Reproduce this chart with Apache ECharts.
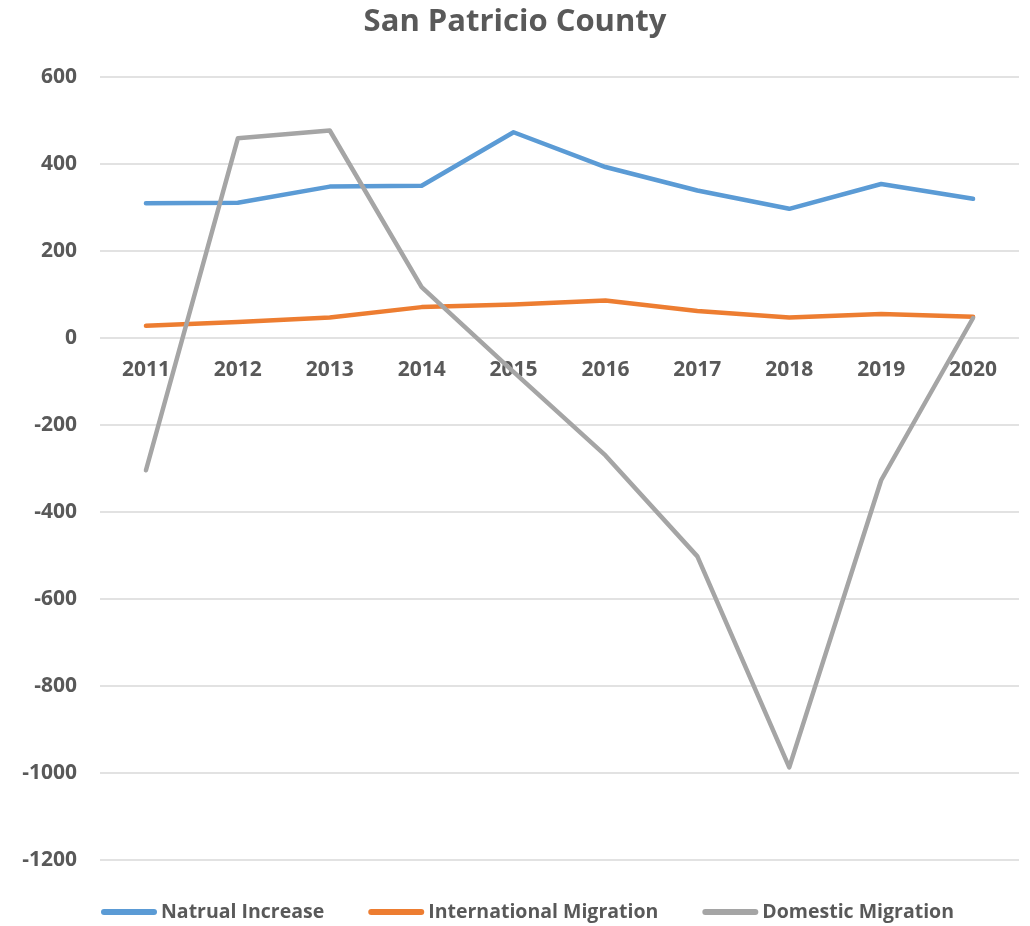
<!DOCTYPE html>
<html>
<head>
<meta charset="utf-8">
<script src="https://cdn.jsdelivr.net/npm/echarts@6/dist/echarts.min.js"></script>
<style>
  html, body { margin: 0; padding: 0; background: #fff; }
  #chart { width: 1030px; height: 926px; }
</style>
</head>
<body>
<div id="chart"></div>
<script>
// Components of population change, San Patricio County
const years = ['2011', '2012', '2013', '2014', '2015', '2016', '2017', '2018', '2019', '2020'];
const naturalIncrease = [310, 311, 348, 350, 473, 393, 339, 297, 354, 320];
const internationalMigration = [28, 37, 47, 71, 77, 86, 62, 47, 55, 49];
const domesticMigration = [-304, 459, 477, 117, -78, -270, -502, -987, -327, 46];
const seriesNames = ['Natrual Increase', 'International Migration', 'Domestic Migration'];

const textColor = '#595959';
const fontFamily = '"Open Sans", sans-serif';

// y range of the value axis and the pixel box of the plot
const yMin = -1200, yMax = 600;
const gridTop = 77, gridBottom = 66, chartHeight = 926;
const plotHeight = chartHeight - gridTop - gridBottom;
// category labels sit just under the zero line
const zeroOffset = -(plotHeight * (0 - yMin) / (yMax - yMin));

const chart = echarts.init(document.getElementById('chart'));

function lineSeries(name, data, color) {
  return {
    name: name,
    type: 'line',
    data: data,
    symbol: 'none',
    color: color,
    lineStyle: { width: 4.5, color: color, cap: 'round', join: 'round' },
    emphasis: { disabled: true }
  };
}

// rounded bar used as the legend key
const keyIcon = 'path://M3,0 L53,0 A3,3 0 0 1 53,6 L3,6 A3,3 0 0 1 3,0 Z';

chart.setOption({
  animation: false,
  title: {
    text: 'San Patricio County',
    left: 'center',
    top: 2,
    textStyle: { color: textColor, fontSize: 31, fontWeight: 'bold', fontFamily: fontFamily }
  },
  legend: {
    top: 897,
    left: 96,
    icon: keyIcon,
    itemWidth: 56,
    itemHeight: 6,
    itemGap: 44,
    textStyle: { color: textColor, fontSize: 19.5, fontWeight: 'bold', fontFamily: fontFamily, padding: [0, 0, 0, -1] },
    data: seriesNames
  },
  grid: { left: 100, right: 11, top: gridTop, bottom: gridBottom, containLabel: false },
  xAxis: {
    type: 'category',
    data: years,
    boundaryGap: true,
    position: 'bottom',
    offset: zeroOffset,
    axisLine: { show: false, onZero: false },
    axisTick: { show: false },
    axisLabel: { color: textColor, fontSize: 21, fontWeight: 'bold', fontFamily: fontFamily, margin: 22 }
  },
  yAxis: {
    type: 'value',
    min: yMin,
    max: yMax,
    interval: 200,
    axisLine: { show: false },
    axisTick: { show: false },
    splitLine: { lineStyle: { color: '#d9d9d9', width: 1.5 } },
    axisLabel: {
      color: textColor, fontSize: 21, fontWeight: 'bold', fontFamily: fontFamily, margin: 23,
      formatter: function (v) { return String(v); }
    }
  },
  series: [
    lineSeries(seriesNames[0], naturalIncrease, '#5b9bd5'),
    lineSeries(seriesNames[1], internationalMigration, '#ed7d31'),
    lineSeries(seriesNames[2], domesticMigration, '#a5a5a5')
  ]
});
</script>
</body>
</html>
